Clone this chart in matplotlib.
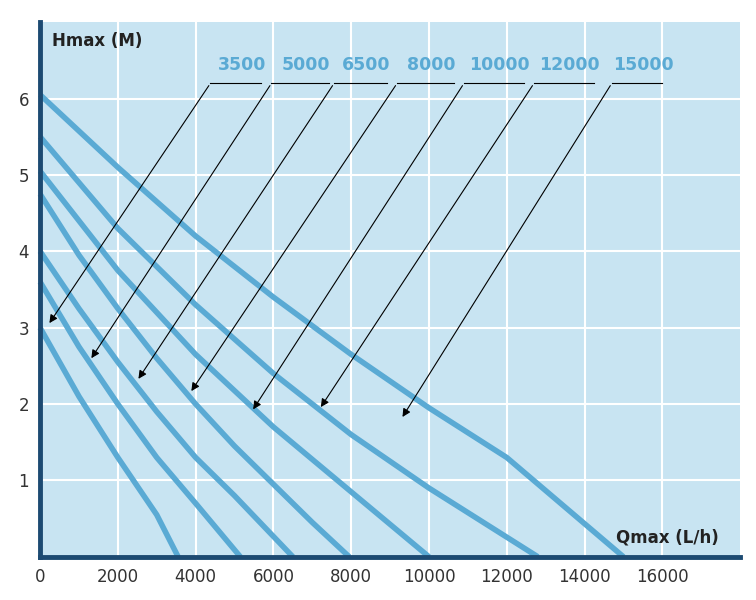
import matplotlib
matplotlib.use("Agg")
import matplotlib.pyplot as plt

labels = ["3500", "5000", "6500", "8000", "10000", "12000", "15000"]
q_3500 = [0, 1000, 2000, 3000, 3550]
h_3500 = [3.0, 2.1, 1.3, 0.55, 0]
q_5000 = [0, 1000, 2000, 3000, 4000, 5150]
h_5000 = [3.6, 2.75, 2.0, 1.3, 0.7, 0]
q_6500 = [0, 1000, 2000, 3000, 4000, 5000, 6500]
h_6500 = [4.0, 3.25, 2.55, 1.9, 1.3, 0.8, 0]
q_8000 = [0, 1000, 2000, 3000, 4000, 5000, 6000, 7000, 7950]
h_8000 = [4.75, 3.95, 3.25, 2.6, 2.0, 1.45, 0.95, 0.45, 0]
q_10000 = [0, 2000, 4000, 6000, 8000, 10000]
h_10000 = [5.05, 3.75, 2.65, 1.7, 0.85, 0]
q_12000 = [0, 2000, 4000, 6000, 8000, 10000, 12800]
h_12000 = [5.5, 4.3, 3.3, 2.4, 1.6, 0.9, 0]
q_15000 = [0, 2000, 4000, 6000, 8000, 10000, 12000, 15000]
h_15000 = [6.05, 5.1, 4.2, 3.4, 2.65, 1.95, 1.3, 0]
curves = [(q_3500, h_3500), (q_5000, h_5000), (q_6500, h_6500), (q_8000, h_8000),
          (q_10000, h_10000), (q_12000, h_12000), (q_15000, h_15000)]
# label leader lines: horizontal segment start/end (q) and arrow tip (q, h)
seg_start = [4380, 5950, 7560, 9180, 10900, 12700, 14700]
seg_end = [5690, 7440, 8920, 10640, 12440, 14230, 16000]
tip_q = [200, 1280, 2490, 3850, 5440, 7180, 9280]
tip_h = [3.03, 2.57, 2.3, 2.14, 1.9, 1.93, 1.8]
seg_h = 6.2

xticks = [0, 2000, 4000, 6000, 8000, 10000, 12000, 14000, 16000]
yticks = [1, 2, 3, 4, 5, 6]

blue = "#5aaad4"
navy = "#1c4a72"
fig = plt.figure(figsize=(7.56, 6), dpi=100)
ax = fig.add_axes([0.053, 0.072, 0.926, 0.891])
ax.set_facecolor("#c8e4f2")
ax.set_xlim(0, 18000)
ax.set_ylim(0, 7)
ax.set_xticks(xticks)
ax.set_yticks(yticks)
ax.grid(True, color="white", lw=1.5)
ax.set_axisbelow(True)
for s in ["top", "right"]:
    ax.spines[s].set_visible(False)
for s in ["left", "bottom"]:
    ax.spines[s].set_color(navy)
    ax.spines[s].set_linewidth(3.5)
ax.tick_params(length=0, labelsize=12, colors="#333333", pad=8)

for q, h in curves:
    ax.plot(q, h, color=blue, lw=4, solid_capstyle="butt", clip_on=False)

for i, lab in enumerate(labels):
    ax.plot([seg_start[i], seg_end[i]], [seg_h, seg_h], color="black", lw=0.8)
    ax.annotate("", xy=(tip_q[i], tip_h[i]), xytext=(seg_start[i], seg_h),
                arrowprops=dict(arrowstyle="-|>", color="black", lw=0.8, mutation_scale=12))
    ax.text((seg_start[i] + seg_end[i]) / 2 + 150, seg_h + 0.12, lab, color=blue,
            fontsize=12.5, fontweight="bold", ha="center", va="bottom")

ax.text(300, 6.75, "Hmax (M)", fontsize=12, fontweight="bold", color="#222222", va="center")
ax.text(14800, 0.25, "Qmax (L/h)", fontsize=12, fontweight="bold", color="#222222", va="center")

fig.savefig("out.png", dpi=100, facecolor="white")
